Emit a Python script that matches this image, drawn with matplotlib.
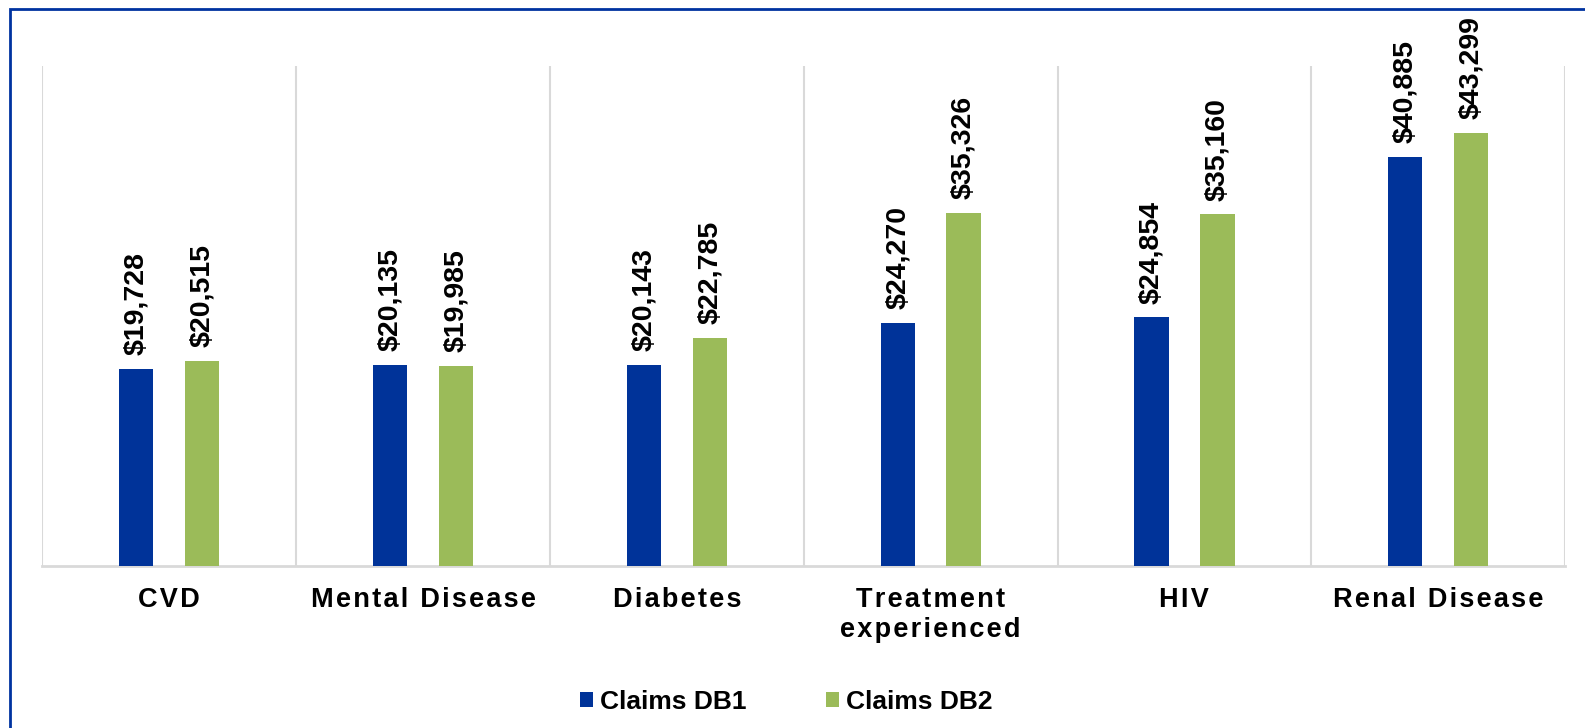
import numpy as np
import matplotlib
matplotlib.use("Agg")
import matplotlib.pyplot as plt
from matplotlib.patches import Rectangle

plt.rcParams['font.family'] = ['Liberation Sans', 'DejaVu Sans']

categories = ["CVD", "Mental Disease", "Diabetes", "Treatment\nexperienced", "HIV", "Renal Disease"]
db1 = [19728, 20135, 20143, 24270, 24854, 40885]
db2 = [20515, 19985, 22785, 35326, 35160, 43299]
series_names = ["Claims DB1", "Claims DB2"]
colors = ["#003399", "#9BBB59"]


def tracked(s):
    # fake letter spacing with hair spaces
    return "\n".join("\u200a".join(line) for line in s.split("\n"))


fig = plt.figure(figsize=(15.85, 7.28), dpi=100)
ax = fig.add_axes([0.0268, 0.2225, 0.9606, 0.6868])

x = np.arange(len(categories))
w = 0.135
off = 0.13
b1 = ax.bar(x - off, db1, w, color=colors[0], label=series_names[0], zorder=3)
b2 = ax.bar(x + off, db2, w, color=colors[1], label=series_names[1], zorder=3)

for bars in (b1, b2):
    for r in bars:
        v = r.get_height()
        ax.annotate(f"${v:,.0f}", (r.get_x() + r.get_width() / 2, v),
                    xytext=(0, 10), textcoords="offset points",
                    rotation=90, ha="center", va="bottom",
                    fontsize=20.5, fontweight="bold", color="black")

ax.set_xlim(-0.5, len(categories) - 0.5)
ax.set_ylim(0, 50000)
ax.set_yticks([])
ax.set_xticks(x)
ax.set_xticklabels([tracked(c) for c in categories], fontsize=19.5, fontweight="bold",
                   linespacing=1.2)
ax.tick_params(axis="x", length=0, pad=15)
ax.set_xticks(np.arange(-0.5, len(categories), 1), minor=True)
ax.tick_params(axis="x", which="minor", length=0)
ax.grid(True, which="minor", axis="x", color="#d9d9d9", linewidth=1.5, zorder=0)

for s in ["left", "right", "top"]:
    ax.spines[s].set_visible(False)
ax.spines["bottom"].set_color("#d9d9d9")
ax.spines["bottom"].set_linewidth(2)

leg = fig.legend(handles=[b1, b2], loc="center", bbox_to_anchor=(0.496, 0.036),
                 ncol=2, frameon=False, prop={"size": 19, "weight": "bold"},
                 handlelength=0.5, handleheight=0.5, handletextpad=0.25,
                 columnspacing=3.0)

border = Rectangle((10 / 1585, -0.1), 1.2, 1 - 9 / 728 + 0.1, transform=fig.transFigure,
                   fill=False, edgecolor="#0033a0", linewidth=2, clip_on=False)
fig.patches.append(border)

fig.savefig("out.png", dpi=100)
